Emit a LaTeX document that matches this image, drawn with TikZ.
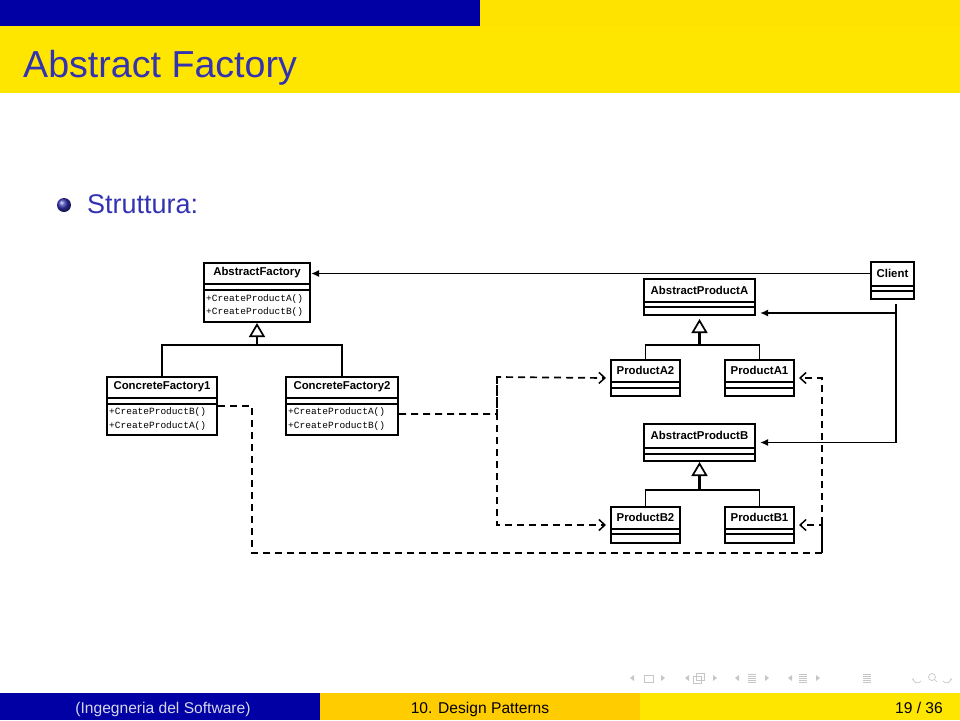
\documentclass[tikz,border=0pt]{standalone}
\usepackage{fontspec}
\setmainfont{Liberation Sans}
\newfontfamily\umlmono{Liberation Mono}
\usetikzlibrary{arrows.meta,calc,shadings}

\definecolor{barblue}{RGB}{0,0,165}
\definecolor{structblue}{RGB}{51,51,178}
\definecolor{headyellow}{RGB}{255,227,0}
\definecolor{titleyellow}{RGB}{255,230,0}
\definecolor{footorange}{RGB}{255,204,0}
\definecolor{footgray}{RGB}{215,215,235}

\tikzset{
    classbox/.style={draw, line width=2pt, fill=white, inner sep=0pt, anchor=north west},
    classtitle/.style={font=\bfseries\fontsize{11.4}{13}\selectfont, inner sep=0pt},
    classops/.style={font=\umlmono\fontsize{9.5}{13.5}\selectfont, align=left, inner sep=2pt, anchor=west},
    assoc/.style={line width=1.6pt, -{Latex[length=8pt,width=7pt]}},
    tree/.style={line width=1.6pt},
    gen/.style={line width=2.4pt, -{Triangle[open,length=14pt,width=16pt,line width=1.7pt]}},
    dep/.style={line width=1.7pt, dash pattern=on 7pt off 5pt, -{Straight Barb[length=6pt,width=11pt,line width=1.5pt]}},
    foot/.style={anchor=base, font=\fontsize{15.6}{18}\selectfont, inner sep=0pt},
    navi/.style={gray!45, line width=0.7pt},
}

% name, left, top, width, title/attribute/operation heights, title, operations
\newcommand{\umlclass}[9]{%
    \node[classbox, minimum width=#4pt, minimum height={#5pt+#6pt+#7pt}] (#1) at (#2,#3) {};
    \draw[line width=1.8pt] ($(#1.north west)+(0,#5)$) -- ($(#1.north east)+(0,#5)$);
    \draw[line width=1.8pt] ($(#1.north west)+(0,#5+#6)$) -- ($(#1.north east)+(0,#5+#6)$);
    \node[classtitle] (#1t) at ($(#1.north)+(0,#5/2)$) {#8};
    \node[classops] (#1o) at ($(#1.north west)+(1,#5+#6+#7/2)$) {#9};
}

\begin{document}
\begin{tikzpicture}[x=1pt,y=-1pt]
    \useasboundingbox (0,0) rectangle (960,720);
    \fill[barblue] (0,0) rectangle (480,26);
    \fill[headyellow] (480,0) rectangle (960,26);
    \fill[titleyellow] (0,26) rectangle (960,93);
    \node[anchor=base west, text=structblue, font=\fontsize{37.6}{40}\selectfont, inner sep=0pt] (title) at (23,77) {Abstract Factory};
    \shade[ball color=structblue] (64,205) circle[radius=7pt];
    \node[anchor=base west, text=structblue, font=\fontsize{27}{30}\selectfont, inner sep=0pt] (struttura) at (87,213) {Struttura:};

    \umlclass{af}{203}{262}{106}{22}{6}{31}{AbstractFactory}{+CreateProductA()\\+CreateProductB()}
    \umlclass{cfone}{106}{376}{110}{22}{6}{30}{ConcreteFactory1}{+CreateProductB()\\+CreateProductA()}
    \umlclass{cftwo}{285}{376}{112}{22}{6}{30}{ConcreteFactory2}{+CreateProductA()\\+CreateProductB()}
    \umlclass{client}{870}{261}{43}{25}{5}{7}{Client}{}
    \umlclass{apa}{643}{278}{111}{24}{5}{7}{AbstractProductA}{}
    \umlclass{pa2}{610}{359}{69}{23}{6}{7}{ProductA2}{}
    \umlclass{pa1}{724}{359}{69}{23}{6}{7}{ProductA1}{}
    \umlclass{apb}{643}{423}{111}{25}{6}{6}{AbstractProductB}{}
    \umlclass{pb2}{610}{506}{69}{23}{5}{8}{ProductB2}{}
    \umlclass{pb1}{724}{506}{69}{23}{5}{8}{ProductB1}{}

    \coordinate (afbar) at ($(af.south)+(0,22)$);
    \coordinate (apabar) at ($(apa.south)+(0,29)$);
    \coordinate (apbbar) at ($(apb.south)+(0,28)$);
    \draw[tree] (cfone.north) |- (afbar) -| (cftwo.north);
    \draw[gen] (afbar) -- (af.south);
    \draw[tree] (pa2.north) |- (apabar) -| (pa1.north);
    \draw[gen] (apabar) -- ($(apa.south)+(0,3)$);
    \draw[tree] (pb2.north) |- (apbbar) -| (pb1.north);
    \draw[gen] (apbbar) -- (apb.south);

    \coordinate (clbus) at ($(client.south)+(3.5,4)$);
    \draw[assoc] (client.west |- clientt) -- (af.east |- clientt);
    \draw[assoc] (clbus) |- ($(apa.south east)+(4,-3)$);
    \draw[assoc] (clbus) |- ($(apb.east)+(4,0)$);

    \coordinate (cfoneleft) at (252,553);
    \coordinate (cfoneright) at (822,553);
    \coordinate (cftwotop) at (497,377);
    \draw[dep] (cfone.east) -| (cfoneleft) -- (cfoneright) |- ($(pa1.east)+(4,0)$);
    \draw[dep] (cfoneright) |- ($(pb1.east)+(4,0)$);
    \draw[dep] ($(cftwo.east)+(0,8)$) -| (cftwotop) -- ($(pa2.west)+(-4,0)$);
    \draw[dep] (cftwotop) |- ($(pb2.west)+(-4,0)$);

    \foreach \x in {632,687,737,790}
        {
            \fill[gray!45] (\x-2,678) -- (\x+2,675) -- (\x+2,681) -- cycle;
        }
    \foreach \x in {663,715,767,818}
        {
            \fill[gray!45] (\x+2,678) -- (\x-2,675) -- (\x-2,681) -- cycle;
        }
    \draw[navi] (644,675) rectangle (653,682);
    \draw[navi] (693,676) rectangle (701,683);
    \draw[navi] (696,673) rectangle (704,680);
    \foreach \x in {752,803,867}
        {
            \foreach \d in {-4,-2,0,2,4}
                {
                    \draw[navi] (\x-4,678+\d) -- (\x+4,678+\d);
                }
        }
    \draw[navi,-{Latex[length=2.5pt]}] (921,681) arc[start angle=-30,end angle=-200,radius=4pt];
    \draw[navi] (932,677) circle[radius=3.5pt];
    \draw[navi] (934.5,679.5) -- (937,682);
    \draw[navi,-{Latex[length=2.5pt]}] (943,681) arc[start angle=210,end angle=380,radius=4pt];

    \fill[barblue] (0,693) rectangle (320,720);
    \fill[footorange] (320,693) rectangle (640,720);
    \fill[titleyellow] (640,693) rectangle (960,720);
    \node[foot, text=footgray] (author) at (163,713) {(Ingegneria del Software)};
    \node[foot] (section) at (480,713) {10. Design Patterns};
    \node[foot, anchor=base east] (page) at (943,713) {19 / 36};
\end{tikzpicture}
\end{document}
